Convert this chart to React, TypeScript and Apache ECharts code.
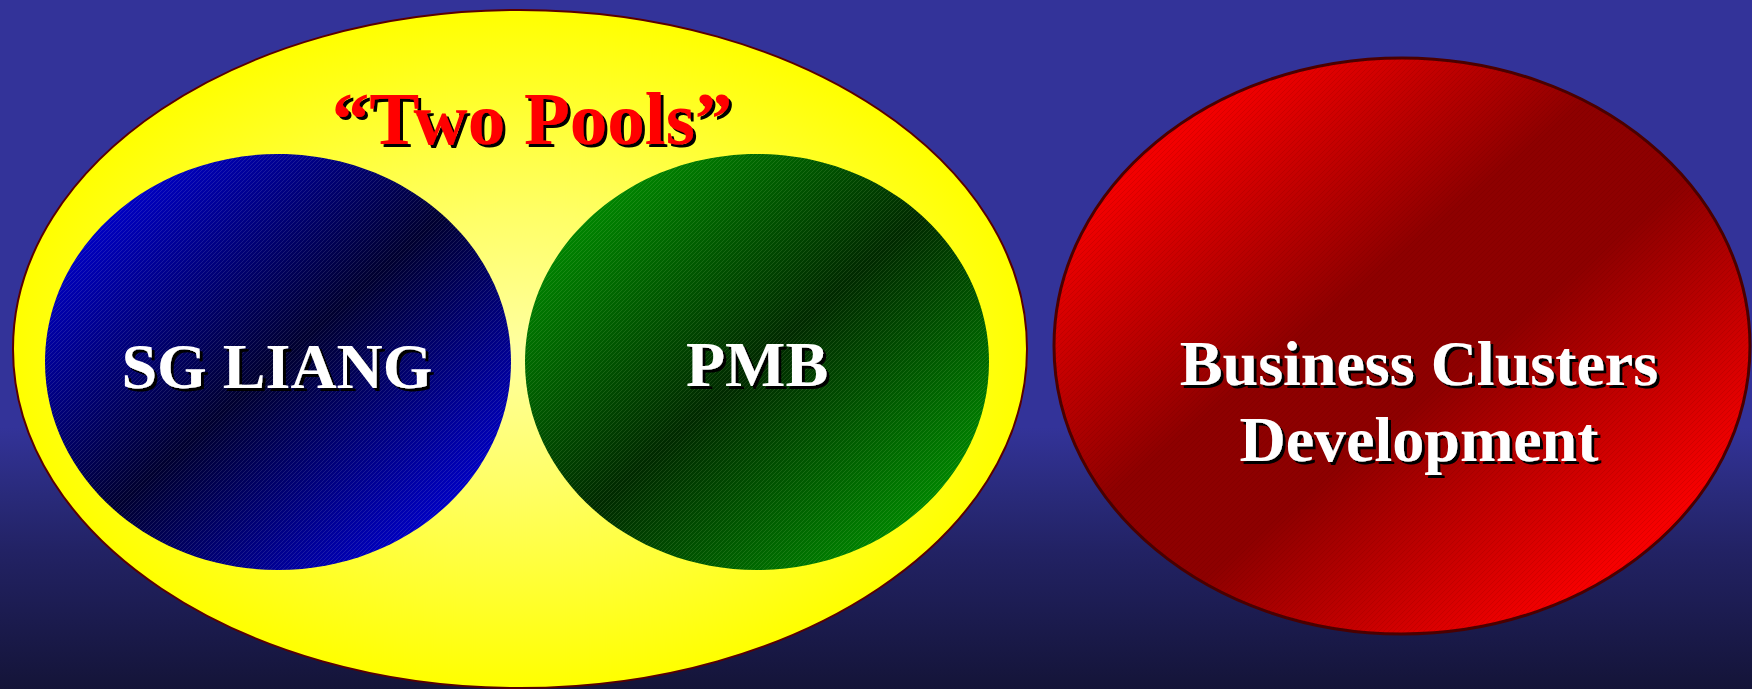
import React, { useEffect, useRef } from "react";
import * as echarts from "echarts";

const W = 1752;
const H = 689;

// Texts of the diagram
const titleText = ["\u201CTwo Pools\u201D"];
const poolLabels = ["SG LIANG", "PMB"];
const clusterLines = ["Business Clusters", "Development"];

const SERIF = '"Liberation Serif", "Times New Roman", serif';

function hatch(size: number, color: string, width: number) {
  const s = size;
  const svg =
    `<svg xmlns="http://www.w3.org/2000/svg" width="${s}" height="${s}">` +
    `<path d="M0,${s} L${s},0 M-1,1 L1,-1 M${s - 1},${s + 1} L${s + 1},${s - 1}" stroke="${color}" stroke-width="${width}" fill="none"/></svg>`;
  return {
    image: "data:image/svg+xml;charset=utf-8," + encodeURIComponent(svg),
    repeat: "repeat",
    imageWidth: s,
    imageHeight: s,
  };
}

function diag(edge0: string, dark: string, edge1: string, e0: number, e1: number, d0 = 0.5, d1 = 0.5) {
  const stops = [
    { offset: 0, color: edge0 },
    { offset: e0, color: edge0 },
    { offset: d0, color: dark },
  ];
  if (d1 !== d0) stops.push({ offset: d1, color: dark });
  stops.push({ offset: e1, color: edge1 });
  stops.push({ offset: 1, color: edge1 });
  return { type: "linear", x: 0, y: 0, x2: 1, y2: 1, colorStops: stops };
}

function textStyle(text: string, x: number, y: number, size: number, fill: string, extra: any = {}) {
  return {
    text,
    x,
    y,
    fill,
    font: `bold ${size}px ${SERIF}`,
    textAlign: "center",
    textVerticalAlign: "middle",
    align: "center",
    verticalAlign: "middle",
    textShadowColor: "#000000",
    textShadowBlur: 1,
    textShadowOffsetX: 3,
    textShadowOffsetY: 3,
    ...extra,
  };
}

export default function App() {
  const ref = useRef<HTMLDivElement>(null);

  useEffect(() => {
    if (!ref.current) return;
    const chart = echarts.init(ref.current, undefined, { renderer: "svg" });

    const yellow = { cx: 520, cy: 349, rx: 507, ry: 339 };
    const blue = { cx: 278, cy: 362, rx: 233, ry: 208 };
    const green = { cx: 757, cy: 362, rx: 232, ry: 208 };
    const red = { cx: 1402, cy: 346, rx: 348, ry: 288 };

    const elements: any[] = [
      {
        type: "rect",
        z: 0,
        shape: { x: 0, y: 0, width: W, height: H },
        style: {
          fill: {
            type: "linear",
            x: 0,
            y: 0,
            x2: 0,
            y2: 1,
            colorStops: [
              { offset: 0, color: "#333399" },
              { offset: 0.62, color: "#333399" },
              { offset: 0.72, color: "#292a7a" },
              { offset: 0.8, color: "#222264" },
              { offset: 1, color: "#141438" },
            ],
          },
        },
      },
      {
        type: "ellipse",
        z: 1,
        shape: yellow,
        style: {
          fill: {
            type: "radial",
            x: 0.5,
            y: 0.5,
            r: 0.5,
            colorStops: [
              { offset: 0, color: "#ffffa0" },
              { offset: 0.4, color: "#ffff66" },
              { offset: 1, color: "#ffff00" },
            ],
          },
          stroke: "#5a0000",
          lineWidth: 2,
        },
      },
      {
        type: "ellipse",
        z: 2,
        shape: blue,
        style: { fill: diag("#0000d4", "#000030", "#0000d4", 0.1, 0.9) },
      },
      {
        type: "ellipse",
        z: 3,
        shape: blue,
        style: { fill: hatch(4, "rgba(200,200,220,0.28)", 0.5) },
      },
      {
        type: "ellipse",
        z: 2,
        shape: green,
        style: { fill: diag("#009000", "#002a00", "#009000", 0.1, 0.9) },
      },
      {
        type: "ellipse",
        z: 3,
        shape: green,
        style: { fill: hatch(4, "rgba(200,230,160,0.25)", 0.5) },
      },
      {
        type: "ellipse",
        z: 2,
        shape: red,
        style: { fill: diag("#f20000", "#8e0000", "#f60000", 0.16, 0.84, 0.42, 0.56) },
      },
      {
        type: "ellipse",
        z: 3,
        shape: red,
        style: {
          fill: hatch(5, "rgba(70,0,0,0.22)", 0.6),
          stroke: "#4a0000",
          lineWidth: 3,
        },
      },
      {
        type: "text",
        z: 10,
        style: textStyle(titleText[0], 532, 118, 75, "#ff0000"),
      },
      {
        type: "text",
        z: 10,
        style: textStyle(poolLabels[0], 277, 366, 64, "#ffffff"),
      },
      {
        type: "text",
        z: 10,
        style: textStyle(poolLabels[1], 757, 364, 64, "#ffffff"),
      },
      {
        type: "text",
        z: 10,
        style: textStyle(clusterLines.join("\n"), 1419, 401, 64, "#ffffff", { lineHeight: 76 }),
      },
    ];

    chart.setOption({
      animation: false,
      graphic: { elements },
    });

    return () => {
      chart.dispose();
    };
  }, []);

  return (
    <div
      ref={ref}
      style={{ position: "fixed", left: 0, top: 0, width: W, height: H }}
    />
  );
}
